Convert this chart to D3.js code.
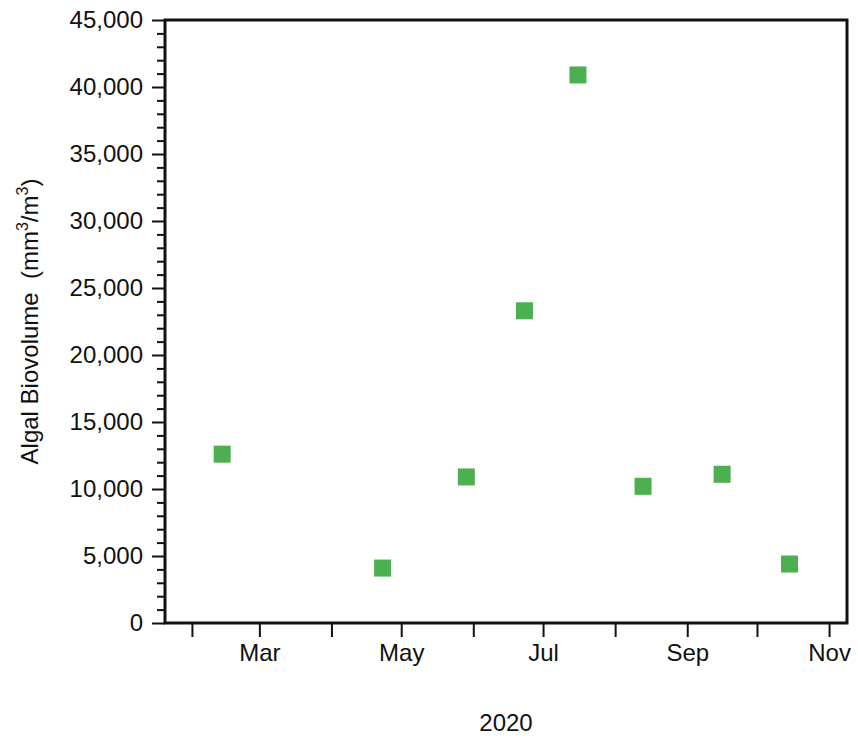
<!DOCTYPE html>
<html>
<head>
<meta charset="utf-8">
<script src="https://cdn.jsdelivr.net/npm/d3@7"></script>
<style>
  html, body { margin: 0; padding: 0; background: #fff; }
  svg { display: block; }
  text { font-family: "Liberation Sans", Arial, Helvetica, sans-serif; fill: #111; }
</style>
</head>
<body>
<svg id="chart" width="858" height="741"></svg>
<script>
// Sampling dates (2020) and measured algal biovolume (mm³/m³)
const sampleDates = ["2020-02-14", "2020-04-23", "2020-05-29", "2020-06-23",
                     "2020-07-16", "2020-08-13", "2020-09-16", "2020-10-15"];
const biovolume = [12600, 4100, 10900, 23300, 40900, 10200, 11100, 4400];

// Axis extents and ticks
const xExtent = ["2020-01-20T10:00", "2020-11-08T17:00"];
const yMax = 45000;
const yMajorTicks = [0, 5000, 10000, 15000, 20000, 25000, 30000, 35000, 40000, 45000];
const yMinorStep = 1000;
const labelledMonths = ["Mar", "May", "Jul", "Sep", "Nov"];
const xTitle = "2020";

const parse = d3.timeParse("%Y-%m-%d");
const parseT = d3.timeParse("%Y-%m-%dT%H:%M");
const points = sampleDates.map((d, i) => ({ date: parse(d), value: biovolume[i] }));

const svg = d3.select("#chart");
const margin = { left: 165, right: 11, top: 20, bottom: 118 };
const W = 858, H = 741;

const x = d3.scaleTime()
  .domain(xExtent.map(parseT))
  .range([margin.left, W - margin.right]);
const y = d3.scaleLinear()
  .domain([0, yMax])
  .range([H - margin.bottom, margin.top]);

const fontSize = 24;
const ink = "#111";

// Minor y ticks
const minorTicks = d3.range(0, yMax + 1, yMinorStep).filter(v => v % 5000 !== 0);
svg.append("g")
  .attr("transform", `translate(${margin.left},0)`)
  .call(d3.axisLeft(y).tickValues(minorTicks).tickSize(8).tickFormat(""))
  .call(g => g.select(".domain").remove())
  .call(g => g.selectAll("line").attr("stroke", ink).attr("stroke-width", 2));

// Major y ticks with labels
svg.append("g")
  .attr("transform", `translate(${margin.left},0)`)
  .call(d3.axisLeft(y).tickValues(yMajorTicks).tickSize(13).tickPadding(9)
    .tickFormat(d3.format(",")))
  .call(g => g.select(".domain").remove())
  .call(g => g.selectAll("line").attr("stroke", ink).attr("stroke-width", 2))
  .call(g => g.selectAll("text").attr("font-size", fontSize)
    .style("font-family", '"Liberation Sans", Arial, sans-serif').attr("fill", ink));

// Monthly x ticks, labels on alternate months
const fmt = d3.timeFormat("%b");
svg.append("g")
  .attr("transform", `translate(0,${H - margin.bottom})`)
  .call(d3.axisBottom(x).ticks(d3.timeMonth.every(1)).tickSize(14).tickPadding(7)
    .tickFormat(d => labelledMonths.includes(fmt(d)) ? fmt(d) : ""))
  .call(g => g.select(".domain").remove())
  .call(g => g.selectAll("line").attr("stroke", ink).attr("stroke-width", 2))
  .call(g => g.selectAll("text").attr("font-size", fontSize)
    .style("font-family", '"Liberation Sans", Arial, sans-serif').attr("fill", ink));

// Plot frame
svg.append("rect")
  .attr("x", x.range()[0])
  .attr("y", y(yMax))
  .attr("width", x.range()[1] - x.range()[0])
  .attr("height", y(0) - y(yMax))
  .attr("fill", "none")
  .attr("stroke", ink)
  .attr("stroke-width", 3);

// Data markers
const sq = 17;
svg.append("g")
  .selectAll("rect")
  .data(points)
  .join("rect")
  .attr("x", d => x(d.date) - sq / 2)
  .attr("y", d => y(d.value) - sq / 2)
  .attr("width", sq)
  .attr("height", sq)
  .attr("fill", "#4caf50");

// X title
svg.append("text")
  .attr("x", (x.range()[0] + x.range()[1]) / 2)
  .attr("y", 731)
  .attr("text-anchor", "middle")
  .attr("font-size", fontSize)
  .text(xTitle);

// Y title
const yt = svg.append("text")
  .attr("transform", `translate(38,${(y(0) + y(yMax)) / 2}) rotate(-90)`)
  .attr("text-anchor", "middle")
  .attr("font-size", fontSize)
  .style("white-space", "pre");
yt.append("tspan").text("Algal Biovolume  (mm");
yt.append("tspan").attr("font-size", 16).attr("dy", -10).text("3");
yt.append("tspan").attr("dy", 10).text("/m");
yt.append("tspan").attr("font-size", 16).attr("dy", -10).text("3");
yt.append("tspan").attr("dy", 10).text(")");
</script>
</body>
</html>
